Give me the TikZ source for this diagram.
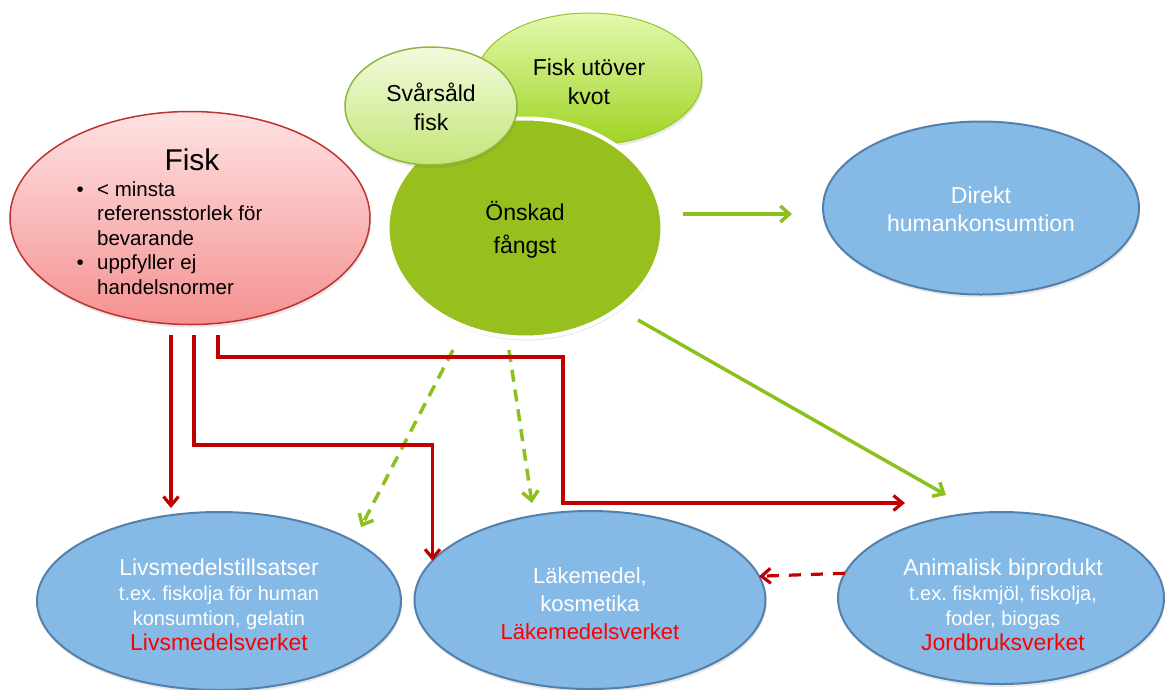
\documentclass[tikz,border=0pt]{standalone}
\usepackage{fontspec}
\setmainfont{Liberation Sans}
\usetikzlibrary{arrows.meta,shadows,shapes.geometric}
\definecolor{redline}{RGB}{192,0,0}
\definecolor{greenline}{RGB}{140,192,30}
\definecolor{bluefill}{RGB}{133,185,230}
\definecolor{blueedge}{RGB}{85,128,170}
\definecolor{agency}{RGB}{255,0,0}
\definecolor{fisktop}{RGB}{254,226,226}
\definecolor{fiskbot}{RGB}{245,145,145}
\definecolor{fiskedge}{RGB}{190,50,50}
\definecolor{onskadfill}{RGB}{151,191,30}
\definecolor{svtop}{RGB}{242,251,221}
\definecolor{svbot}{RGB}{197,229,122}
\definecolor{svedge}{RGB}{140,185,60}
\definecolor{uttop}{RGB}{227,249,174}
\definecolor{utbot}{RGB}{159,211,33}
\definecolor{utedge}{RGB}{150,196,45}
\tikzset{
  oval/.style={ellipse, inner sep=0pt, outer sep=0pt},
  softshadow/.style={drop shadow={shadow xshift=1pt, shadow yshift=-3pt, opacity=.15, fill=black!60}},
  fiskoval/.style={oval, top color=fisktop, bottom color=fiskbot, draw=fiskedge, line width=1.5pt, softshadow},
  utoval/.style={oval, top color=uttop, bottom color=utbot, draw=utedge, line width=1pt, softshadow},
  svoval/.style={oval, top color=svtop, bottom color=svbot, draw=svedge, line width=1.5pt, softshadow},
  onoval/.style={oval, fill=onskadfill, draw=white, line width=4pt, softshadow},
  blueoval/.style={oval, fill=bluefill, draw=blueedge, line width=2pt, softshadow},
  toptext/.style={align=center, inner sep=0pt, font=\fontsize{23}{29}\selectfont},
  bluetext/.style={align=center, inner sep=0pt, text=white},
  subf/.style={font=\fontsize{20}{25}\selectfont},
  redarrow/.style={draw=redline, line width=3.2pt, -{Straight Barb[length=9pt,width=15pt]}},
  reddash/.style={redarrow, dash pattern=on 12pt off 10pt},
  greenarrow/.style={draw=greenline, line width=3.5pt, -{Straight Barb[length=9pt,width=16pt]}},
  greendash/.style={greenarrow, dash pattern=on 12pt off 8pt},
}
\newcommand{\bul}{\llap{\textbullet\hspace{13.5pt}}}
\begin{document}
\begin{tikzpicture}[x=1pt,y=-1pt]
\useasboundingbox (0,0) rectangle (1165,689);
% Fisk
\node[fiskoval, minimum width=360pt, minimum height=213pt] (fisk) at (190,218) {};
\node[font=\fontsize{30}{34}\selectfont, inner sep=0pt] (fisktitle) at (192,160) {Fisk};
\node[align=left, anchor=west, inner sep=0pt, font=\fontsize{20.5}{24.5}\selectfont] (fisklist) at (97,238)
  {\bul< minsta\\referensstorlek för\\bevarande\\\bul uppfyller ej\\handelsnormer};
% green group
\node[utoval, minimum width=226pt, minimum height=132pt] (utover) at (589,79) {};
\node[onoval, minimum width=275pt, minimum height=219pt] (onskad) at (525,228) {};
\node[svoval, minimum width=172pt, minimum height=118pt] (svarsald) at (431,106) {};
\node[toptext] (utovertext) at (589,81.5) {Fisk utöver\\kvot};
\node[toptext] (svarsaldtext) at (431,107) {Svårsåld\\fisk};
\node[toptext, font=\fontsize{23}{33}\selectfont] (onskadtext) at (525,230) {Önskad\\fångst};
% blue
\node[blueoval, minimum width=316pt, minimum height=173pt] (direkt) at (981,208) {};
\node[bluetext, font=\fontsize{23}{28}\selectfont] (direkttext) at (981,209) {Direkt\\humankonsumtion};
\node[blueoval, minimum width=364pt, minimum height=178pt] (livs) at (219,601) {};
\node[bluetext, subf] (livstext) at (219,605)
  {{\fontsize{23}{25}\selectfont Livsmedelstillsatser}\\t.ex.\ fiskolja för human\\konsumtion, gelatin\\{\fontsize{23}{25}\selectfont\color{agency}Livsmedelsverket}};
\node[blueoval, minimum width=351pt, minimum height=178pt] (lake) at (590,600) {};
\node[bluetext, font=\fontsize{22}{28}\selectfont] (laketext) at (590,604)
  {Läkemedel,\\kosmetika\\{\color{agency}Läkemedelsverket}};
\node[blueoval, minimum width=326pt, minimum height=172pt] (anim) at (1001,598) {};
\node[bluetext, subf] (animtext) at (1003,605)
  {{\fontsize{23}{25}\selectfont Animalisk biprodukt}\\t.ex.\ fiskmjöl, fiskolja,\\foder, biogas\\{\fontsize{23}{25}\selectfont\color{agency}Jordbruksverket}};
% connector end points
\coordinate (g1s) at (683,214);
\coordinate (g1e) at (792,214);
\coordinate (g2s) at (638,320);
\coordinate (g2e) at (946,495);
\coordinate (d1s) at (453,350);
\coordinate (d1e) at (361,527);
\coordinate (d2s) at (509,350);
\coordinate (d2e) at (532,503);
\coordinate (r1s) at (171,335);
\coordinate (r1e) at (171,508);
\coordinate (r2s) at (194,335);
\coordinate (r2m) at (194,445);
\coordinate (r3s) at (218,335);
\coordinate (r3m) at (563,357);
\coordinate (r3e) at (905,503);
% connectors
\draw[greenarrow] (g1s) -- (g1e);
\draw[greenarrow] (g2s) -- (g2e);
\draw[greendash] (d1s) -- (d1e);
\draw[greendash] (d2s) -- (d2e);
\draw[redarrow] (r1s) -- (r1e);
\draw[redarrow] (r2s) -- (r2m) -| (lake.166.5);
\draw[redarrow] (r3s) |- (r3m) |- (r3e);
\draw[reddash] (anim.171.7) -- (lake.8.5);
\end{tikzpicture}
\end{document}
